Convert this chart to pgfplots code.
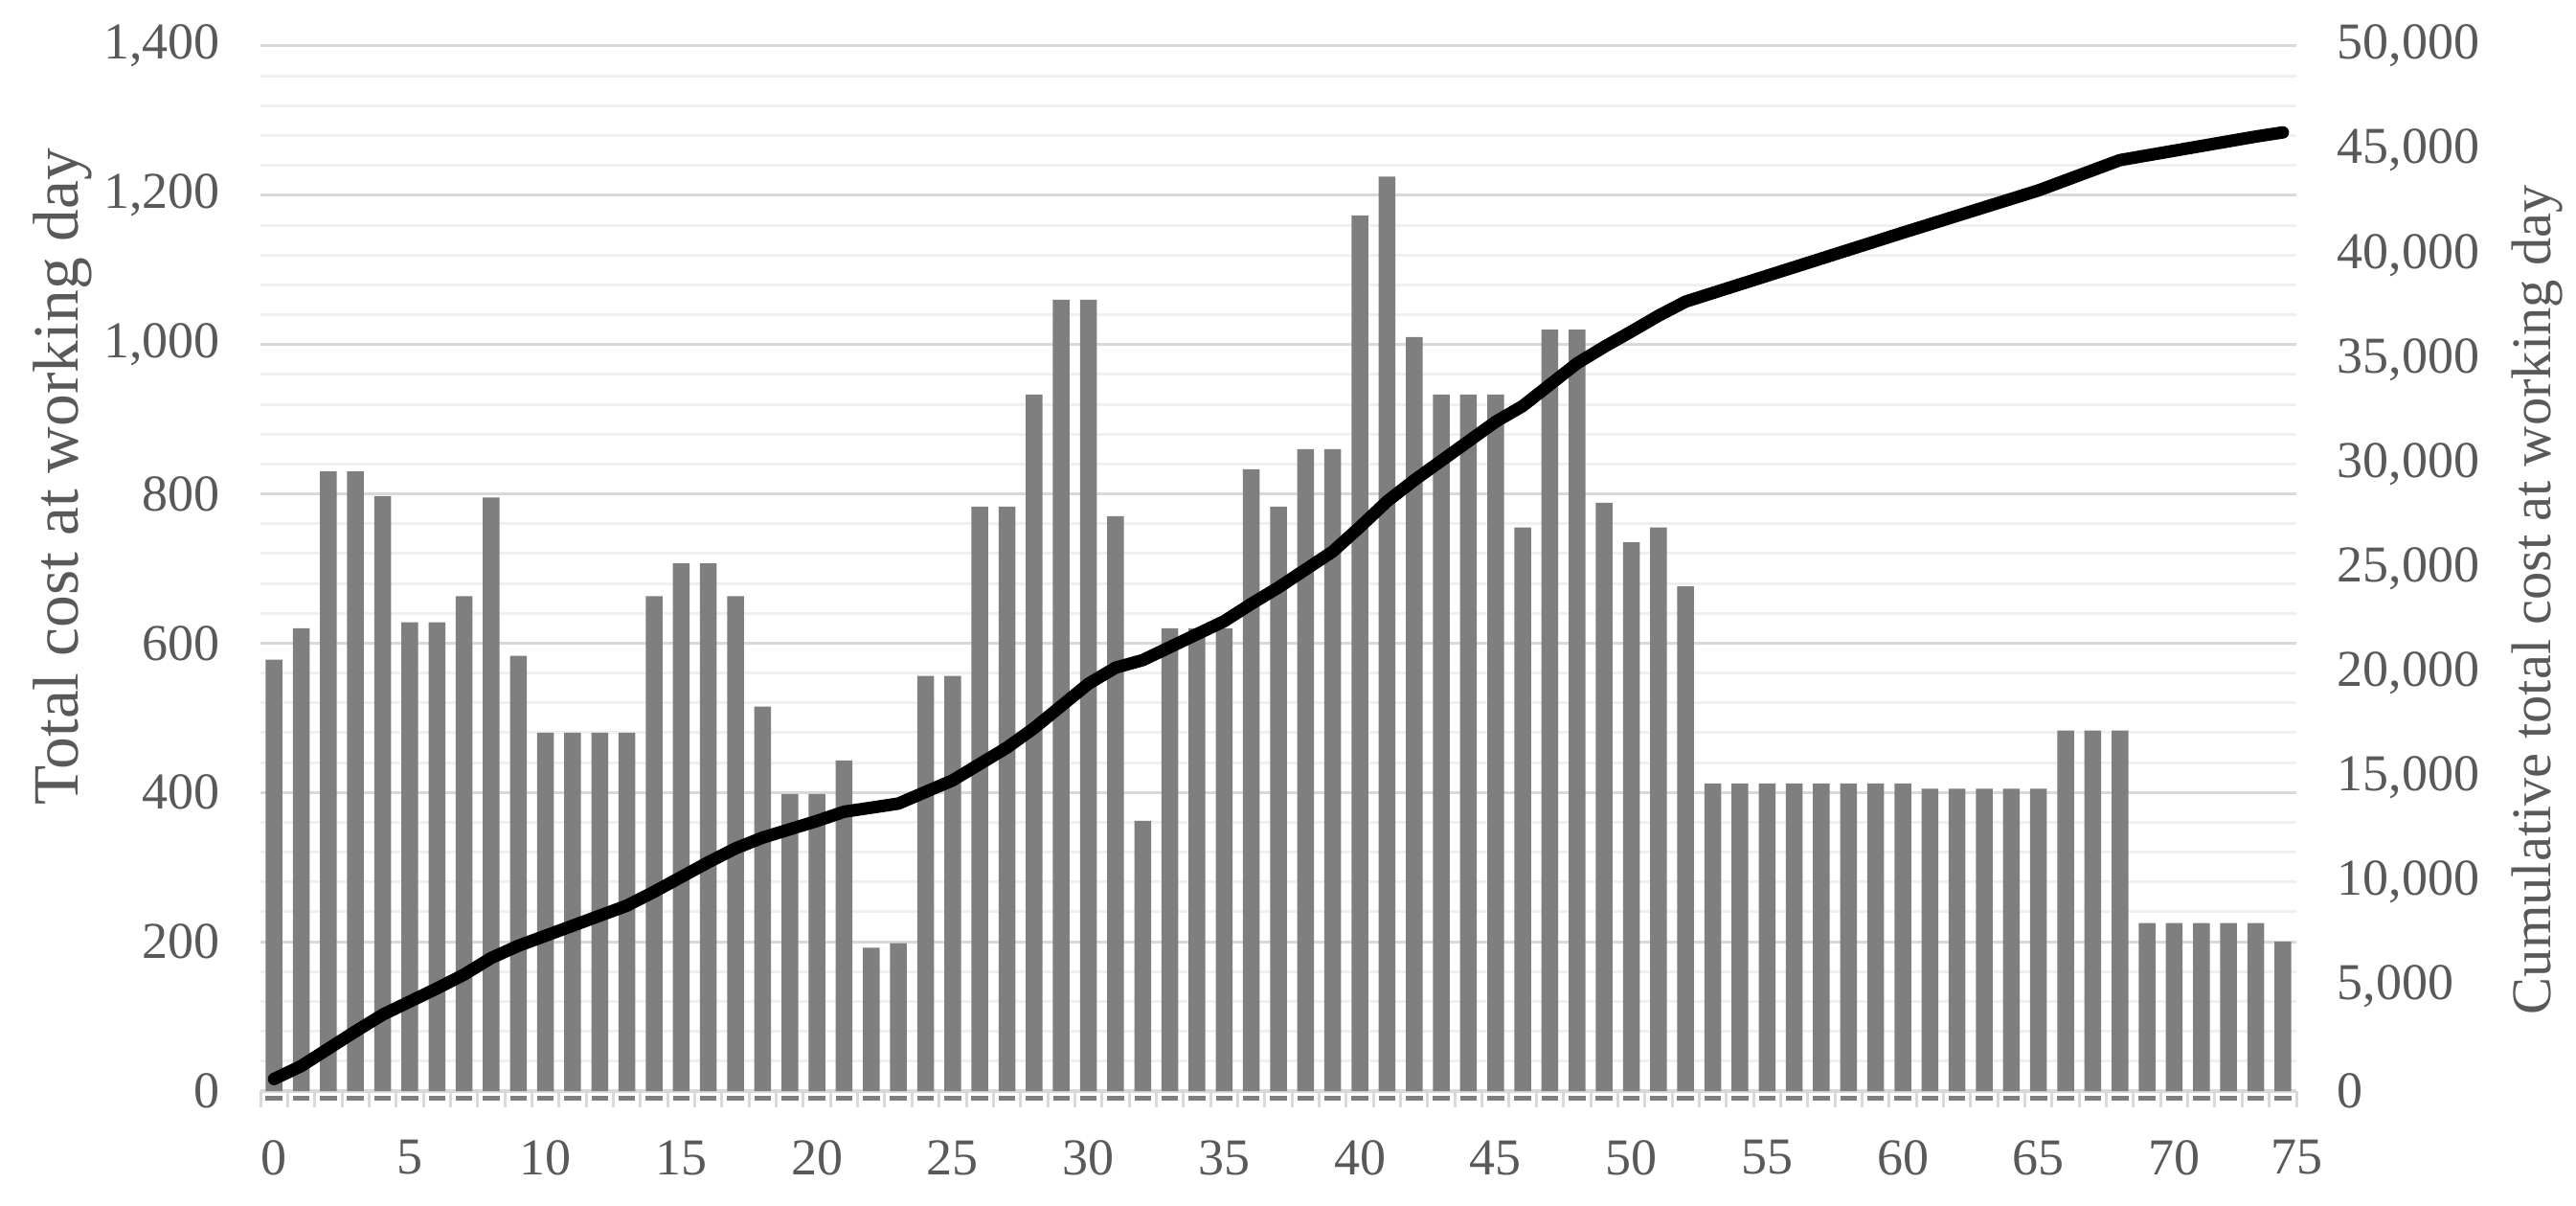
\documentclass[border=0pt]{standalone}
\usepackage{fontspec}
\setmainfont{Liberation Serif}
\usepackage{pgfplots}
\usepackage{pgfplotstable}
\pgfplotsset{compat=1.18}

\definecolor{txtgray}{HTML}{595959}
\definecolor{barcol}{HTML}{7F7F7F}
\definecolor{gridmaj}{HTML}{D9D9D9}
\definecolor{gridmin}{HTML}{F0F0F0}

% day, daily cost, cumulative cost
\pgfplotstableread{
day cost cum
0 578 578
1 620 1198
2 830 2028
3 830 2858
4 797 3655
5 628 4283
6 628 4911
7 663 5574
8 795 6369
9 583 6952
10 480 7432
11 480 7912
12 480 8392
13 480 8872
14 663 9535
15 707 10242
16 707 10949
17 663 11612
18 515 12127
19 398 12525
20 398 12923
21 443 13366
22 192 13558
23 198 13756
24 556 14312
25 556 14868
26 783 15651
27 783 16434
28 933 17367
29 1060 18427
30 1060 19487
31 770 20257
32 362 20619
33 620 21239
34 620 21859
35 620 22479
36 833 23312
37 783 24095
38 860 24955
39 860 25815
40 1173 26988
41 1225 28213
42 1010 29223
43 933 30156
44 933 31089
45 933 32022
46 755 32777
47 1020 33797
48 1020 34817
49 788 35605
50 735 36340
51 755 37095
52 676 37771
53 412 38183
54 412 38595
55 412 39007
56 412 39419
57 412 39831
58 412 40243
59 412 40655
60 412 41067
61 405 41472
62 405 41877
63 405 42282
64 405 42687
65 405 43092
66 483 43575
67 483 44058
68 483 44541
69 225 44766
70 225 44991
71 225 45216
72 225 45441
73 225 45666
74 200 45866
}\costdata

\pgfplotsset{
  common/.style={
    width=425.2pt, height=218.2pt, scale only axis,
    xmin=-0.5, xmax=74.5, enlargelimits=false,
    font=\fontsize{10.8}{12}\selectfont,
    tick label style={text=txtgray},
    label style={text=txtgray},
    scaled y ticks=false,
    /pgf/number format/.cd, 1000 sep={,}, assume math mode=true,
  },
}

\begin{document}
\begin{tikzpicture}
\begin{axis}[common, name=ax,
    ymin=0, ymax=1400, ytick={0,200,...,1400},
    minor y tick num=4,
    ymajorgrids, yminorgrids,
    major grid style={gridmaj, line width=0.6pt},
    minor grid style={gridmin, line width=0.6pt},
    axis x line*=bottom, axis y line*=left,
    y axis line style={draw=none},
    x axis line style={gridmaj, line width=0.9pt},
    ytick style={draw=none},
    yticklabel style={anchor=east, xshift=-0.6pt},
    xtick={0,5,...,70,74.5},
    xticklabels={0,5,10,15,20,25,30,35,40,45,50,55,60,65,70,75},
    major x tick style={draw=none},
    minor xtick={-0.5,0.5,...,74.5},
    minor x tick style={gridmaj, line width=0.6pt},
    tick align=outside,
    minor tick length=3.4pt,
    xticklabel style={anchor=north, yshift=-2.5pt},
    ylabel={Total cost at working day},
    ylabel style={at={(axis description cs:-0.0974,0.588)}, anchor=center, rotate=0,
      font=\fontsize{13.5}{14}\selectfont},
]
\addplot[ybar, bar width=3.5pt, fill=barcol, draw=none] table[x=day, y=cost] {\costdata};
\end{axis}
\draw[barcol, line width=0.9pt, dash pattern=on 3.5pt off 2.1693pt, dash phase=4.5846pt]
  ([yshift=-1.5pt]ax.south west) -- ([yshift=-1.5pt]ax.south east);
\begin{axis}[common,
    ymin=0, ymax=50000, ytick={0,5000,...,50000},
    axis x line=none, axis y line*=right,
    y axis line style={draw=none},
    ytick style={draw=none},
    yticklabel style={anchor=west, xshift=5pt},
    ylabel={Cumulative total cost at working day},
    ylabel style={at={(axis description cs:1.1185,0.47)}, anchor=center, rotate=0,
      font=\fontsize{11.7}{13}\selectfont},
]
\addplot[black, line width=2.6pt, line join=round, line cap=round] table[x=day, y=cum] {\costdata};
\end{axis}
\pgfresetboundingbox
\useasboundingbox ([xshift=-54.4pt, yshift=-23.8pt]ax.south west) rectangle ([xshift=58.4pt, yshift=9.6pt]ax.north east);
\end{tikzpicture}
\end{document}
